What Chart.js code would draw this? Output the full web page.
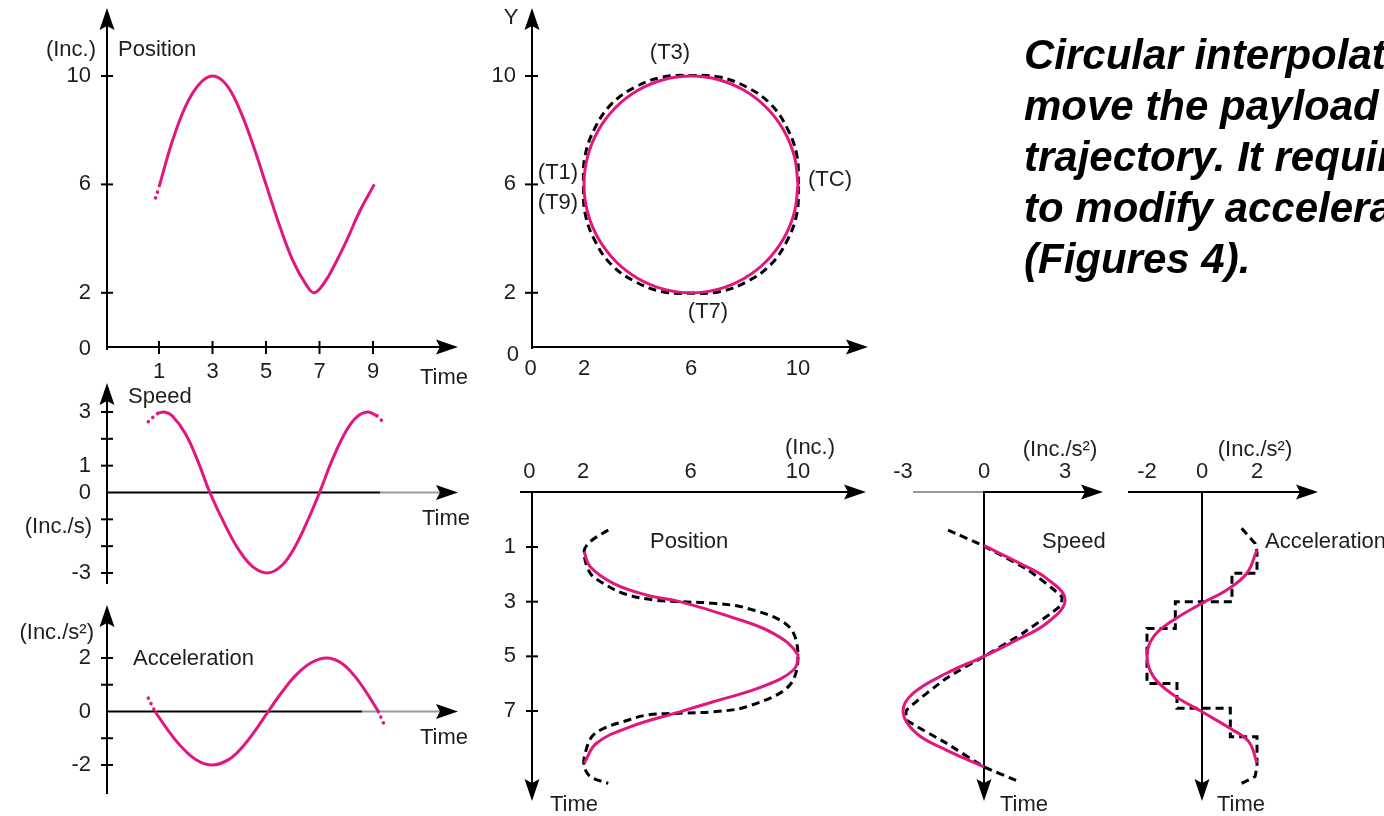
<!DOCTYPE html>
<html lang="en">
<head>
<meta charset="utf-8">
<title>Circular interpolation</title>
<script src="https://cdn.jsdelivr.net/npm/chart.js@4.4.1/dist/chart.umd.min.js"></script>
<style>
    html, body { margin: 0; padding: 0; background: #fff; }
    body { position: relative; width: 1384px; height: 816px; overflow: hidden; }
    canvas.plot { position: absolute; left: 0; top: 0; }
    .note {
        position: absolute; left: 1024px; top: 29px;
        font: italic bold 42px "Liberation Sans", Arial, sans-serif;
        line-height: 51px; color: #000; white-space: nowrap;
    }
</style>
</head>
<body>
<canvas id="posChart" class="plot" width="1384" height="816"></canvas>
<canvas id="speedChart" class="plot" width="1384" height="816"></canvas>
<canvas id="accelChart" class="plot" width="1384" height="816"></canvas>
<canvas id="pathChart" class="plot" width="1384" height="816"></canvas>
<canvas id="posTimeChart" class="plot" width="1384" height="816"></canvas>
<canvas id="speedTimeChart" class="plot" width="1384" height="816"></canvas>
<canvas id="accelTimeChart" class="plot" width="1384" height="816"></canvas>

<div class="note">
    <div>Circular interpolation</div>
    <div>move the payload</div>
    <div>trajectory. It requires</div>
    <div>to modify acceleration</div>
    <div>(Figures 4).</div>
</div>

<script>
const W = 1384, H = 816;
const PINK = '#e1177d';
const INK = '#1e1e1e';
const FONT = '22px "Liberation Sans", Arial, sans-serif';

// --- left column: position / speed / acceleration against time ---
const timeTicks = [1, 3, 5, 7, 9];
const posLevels = [10, 6, 2];

const posLeadT = [0.73, 0.87, 1.0];
const posLeadV = [5.1, 5.5, 5.9];
const posT = [1.0, 1.5, 2.0, 2.5, 3.0, 3.5, 4.0, 4.5, 5.0, 5.5, 6.0, 6.5, 6.8, 7.2, 7.6, 8.0, 8.5, 9.05];
const posV = [5.9, 7.6, 8.9, 9.7, 10.0, 9.7, 8.8, 7.5, 6.0, 4.5, 3.2, 2.3, 2.0, 2.4, 3.1, 3.9, 5.0, 6.0];

const speedMarks = [3, 2, 1, -1, -2, -3];
const speedLabels = [3, 1, 0, -3];
const spdLeadT = [0.3, 0.6, 0.95];
const spdLeadV = [2.17, 2.64, 2.95];
const spdT = [0.95, 1.2, 1.5, 2.0, 2.5, 2.9, 3.5, 4.0, 4.5, 5.05, 5.6, 6.1, 6.6, 7.0, 7.5, 8.0, 8.4, 8.8, 9.15];
const spdV = [2.95, 3.0, 2.85, 2.17, 1.05, 0, -1.27, -2.16, -2.76, -3.0, -2.71, -1.99, -0.95, 0, 1.27, 2.3, 2.82, 3.0, 2.86];
const spdTailT = [9.15, 9.45, 9.7];
const spdTailV = [2.86, 2.55, 2.25];

const accelMarks = [2, 1, -1, -2];
const accelLabels = [2, 0, -2];
const accLeadT = [0.37, 0.6, 0.85];
const accLeadV = [0.94, 0.5, 0];
const accT = [0.85, 1.3, 1.8, 2.4, 3.0, 3.6, 4.1, 4.6, 5.08, 5.6, 6.1, 6.7, 7.27, 7.8, 8.3, 8.8, 9.2];
const accV = [0, -0.65, -1.28, -1.81, -2.0, -1.8, -1.35, -0.71, 0, 0.73, 1.34, 1.83, 2.0, 1.82, 1.34, 0.64, 0];
const accTailT = [9.2, 9.4, 9.62];
const accTailV = [0, -0.45, -0.9];

// --- X/Y path ---
const pathLevels = [10, 6, 2];
const pathXLabels = [0, 2, 6, 10];
const circleX = [10, 9.864, 9.464, 8.828, 8, 7.035, 6, 4.965, 4, 3.172, 2.536, 2.136, 2, 2.136, 2.536, 3.172, 4, 4.965, 6, 7.035, 8, 8.828, 9.464, 9.864, 10];
const circleY = [6, 7.035, 8, 8.828, 9.464, 9.864, 10, 9.864, 9.464, 8.828, 8, 7.035, 6, 4.965, 4, 3.172, 2.536, 2.136, 2, 2.136, 2.536, 3.172, 4, 4.965, 6];
const cmdCircleX = [10.02, 9.96, 9.594, 8.97, 8.075, 7.061, 6, 4.939, 3.925, 3.03, 2.406, 2.04, 1.98, 2.04, 2.406, 3.03, 3.925, 4.939, 6, 7.061, 8.075, 8.97, 9.594, 9.96, 10.02];
const cmdCircleY = [6, 7.061, 8.075, 8.97, 9.594, 9.96, 10.02, 9.96, 9.594, 8.97, 8.075, 7.061, 6, 4.939, 3.925, 3.03, 2.406, 2.04, 1.98, 2.04, 2.406, 3.03, 3.925, 4.939, 6];

// --- bottom row: profiles with time running downwards ---
const downTicks = [1, 3, 5, 7];
const posAxisLabels = [0, 2, 6, 10];
const pathT = [1.17, 1.72, 2.33, 2.76, 3.0, 3.55, 4.16, 4.95, 5.5, 6.1, 6.66, 7.03, 7.58, 8.18, 8.9];
const pathV = [2.04, 2.27, 3.13, 4.37, 5.6, 7.47, 9.08, 10.0, 9.83, 8.7, 6.85, 5.6, 3.75, 2.5, 2.05];
const cmdT = [0.38, 0.8, 1.17, 1.96, 2.33, 2.7, 2.94, 3.0, 3.06, 3.24, 3.9, 5.0, 6.1, 6.84, 7.03, 7.08, 7.15, 7.39, 7.64, 7.94, 8.55, 9.0, 9.4, 9.65];
const cmdV = [2.94, 2.27, 2.04, 2.27, 2.76, 3.5, 4.62, 5.6, 6.85, 8.1, 9.65, 10.0, 9.65, 8.1, 6.85, 5.6, 4.37, 3.5, 2.76, 2.33, 2.08, 2.04, 2.27, 2.94];

const speedAxisLabels = [-3, 0, 3];
const fSpdT = [0.95, 1.6, 2.15, 2.94, 3.79, 4.46, 5.0, 5.62, 6.35, 7.03, 7.82, 8.43, 9.04];
const fSpdV = [0, 1.33, 2.32, 3.0, 2.32, 1.09, 0, -1.39, -2.62, -3.0, -2.5, -1.39, 0];
const cSpdT = [0.38, 0.97, 1.84, 2.82, 3.18, 4.16, 5.0, 5.8, 6.96, 7.33, 8.18, 9.04, 9.59];
const cSpdV = [-1.33, 0, 1.63, 2.88, 2.8, 1.43, 0, -1.39, -2.86, -2.86, -1.39, 0, 1.31];

const accelAxisLabels = [-2, 0, 2];
const fAccT = [1.1, 1.96, 2.57, 3.06, 3.67, 4.28, 5.0, 5.75, 6.42, 7.03, 7.64, 8.12, 8.9];
const fAccV = [2.0, 1.63, 0.9, 0, -1.03, -1.76, -2.0, -1.76, -1.03, 0, 1.03, 1.7, 2.0];
const stepT = [0.31, 0.87, 1.2, 1.96, 1.96, 3.0, 3.0, 3.98, 3.98, 5.99, 5.99, 6.9, 6.9, 7.94, 7.94, 9.04, 9.4, 9.65];
const stepV = [1.44, 1.93, 2.0, 2.0, 1.09, 1.09, -0.97, -0.97, -2.0, -2.0, -0.91, -0.91, 1.03, 1.03, 2.0, 2.0, 1.93, 1.44];

function pts(xs, ys) {
    return xs.map((x, i) => ({ x: x, y: ys[i] }));
}

function solid(xs, ys) {
    return { data: pts(xs, ys), showLine: true, borderColor: PINK, borderWidth: 3, pointRadius: 0, tension: 0.4, clip: false };
}

function dotted(xs, ys) {
    return {
        data: pts(xs, ys), showLine: true, borderColor: PINK, borderWidth: 3.5,
        borderDash: [0.1, 6], borderCapStyle: 'round', pointRadius: 0, tension: 0.3, clip: false
    };
}

function dashed(xs, ys, tension) {
    return { data: pts(xs, ys), showLine: true, borderColor: '#000', borderWidth: 3, borderDash: [8, 5], pointRadius: 0, tension: tension, clip: false };
}

function drawLine(ctx, x0, y0, x1, y1, color) {
    ctx.beginPath();
    ctx.strokeStyle = color || '#000';
    ctx.lineWidth = 2;
    ctx.setLineDash([]);
    ctx.moveTo(x0, y0);
    ctx.lineTo(x1, y1);
    ctx.stroke();
}

function drawArrow(ctx, x, y, dir) {
    const len = 22, half = 7.5;
    ctx.save();
    ctx.translate(x, y);
    ctx.rotate({ right: 0, down: Math.PI / 2, up: -Math.PI / 2 }[dir]);
    ctx.beginPath();
    ctx.moveTo(0, 0);
    ctx.lineTo(-len, -half);
    ctx.lineTo(-len * 0.82, 0);
    ctx.lineTo(-len, half);
    ctx.closePath();
    ctx.fillStyle = '#000';
    ctx.fill();
    ctx.restore();
}

function drawText(ctx, text, x, y, align) {
    ctx.font = FONT;
    ctx.fillStyle = INK;
    ctx.textAlign = align || 'center';
    ctx.textBaseline = 'middle';
    ctx.fillText(text, x, y);
}

function makeChart(id, box, xRange, yRange, datasets, decorate, flipY) {
    return new Chart(document.getElementById(id), {
        type: 'scatter',
        data: { datasets },
        options: {
            responsive: false,
            animation: false,
            events: [],
            layout: { padding: { left: box[0], top: box[1], right: W - box[2], bottom: H - box[3] } },
            plugins: { legend: { display: false }, tooltip: { enabled: false } },
            scales: {
                x: { type: 'linear', display: false, min: xRange[0], max: xRange[1] },
                y: { type: 'linear', display: false, min: yRange[0], max: yRange[1], reverse: !!flipY }
            }
        },
        plugins: [{
            id: 'axesArt',
            beforeDatasetsDraw(chart) {
                const ctx = chart.ctx;
                ctx.save();
                decorate(ctx, chart.scales.x, chart.scales.y);
                ctx.restore();
            }
        }]
    });
}

// Position vs time
makeChart('posChart', [159, 76, 373, 347], [1, 9], [0, 10],
    [solid(posT, posV), dotted(posLeadT, posLeadV)],
    (ctx, xs, ys) => {
        drawLine(ctx, 107, 350, 107, 22);
        drawArrow(ctx, 107, 8, 'up');
        drawLine(ctx, 106, 347, 445, 347);
        drawArrow(ctx, 458, 347, 'right');
        posLevels.forEach((v) => {
            const y = ys.getPixelForValue(v);
            drawLine(ctx, 101, y, 113, y);
            drawText(ctx, String(v), 91, y, 'right');
        });
        drawText(ctx, '0', 91, 349, 'right');
        timeTicks.forEach((t) => {
            const x = xs.getPixelForValue(t);
            drawLine(ctx, x, 341, x, 354);
            drawText(ctx, String(t), x, 372);
        });
        drawText(ctx, 'Time', 420, 378, 'left');
        drawText(ctx, '(Inc.)', 96, 50, 'right');
        drawText(ctx, 'Position', 118, 50, 'left');
    });

// Speed vs time
makeChart('speedChart', [159, 412, 373, 573], [1, 9], [-3, 3],
    [solid(spdT, spdV), dotted(spdLeadT, spdLeadV), dotted(spdTailT, spdTailV)],
    (ctx, xs, ys) => {
        const y0 = ys.getPixelForValue(0);
        drawLine(ctx, 107, 584, 107, 397);
        drawArrow(ctx, 107, 383, 'up');
        drawLine(ctx, 106, y0, 380, y0);
        drawLine(ctx, 380, y0, 445, y0, '#9a9a9a');
        drawArrow(ctx, 458, y0, 'right');
        speedMarks.forEach((v) => {
            const y = ys.getPixelForValue(v);
            drawLine(ctx, 101, y, 113, y);
        });
        speedLabels.forEach((v) => drawText(ctx, String(v), 91, ys.getPixelForValue(v), 'right'));
        drawText(ctx, 'Speed', 128, 397, 'left');
        drawText(ctx, '(Inc./s)', 92, 527, 'right');
        drawText(ctx, 'Time', 422, 519, 'left');
    });

// Acceleration vs time
makeChart('accelChart', [159, 658, 373, 765], [1, 9], [-2, 2],
    [solid(accT, accV), dotted(accLeadT, accLeadV), dotted(accTailT, accTailV)],
    (ctx, xs, ys) => {
        const y0 = ys.getPixelForValue(0);
        drawLine(ctx, 107, 794, 107, 619);
        drawArrow(ctx, 107, 605, 'up');
        drawLine(ctx, 106, y0, 362, y0);
        drawLine(ctx, 362, y0, 445, y0, '#9a9a9a');
        drawArrow(ctx, 458, y0, 'right');
        accelMarks.forEach((v) => {
            const y = ys.getPixelForValue(v);
            drawLine(ctx, 101, y, 113, y);
        });
        accelLabels.forEach((v) => drawText(ctx, String(v), 91, ys.getPixelForValue(v), 'right'));
        drawText(ctx, '(Inc./s²)', 94, 633, 'right');
        drawText(ctx, 'Acceleration', 133, 659, 'left');
        drawText(ctx, 'Time', 420, 738, 'left');
    });

// X/Y trajectory
makeChart('pathChart', [584, 76, 798, 347], [2, 10], [0, 10],
    [solid(circleX, circleY), dashed(cmdCircleX, cmdCircleY, 0.4)],
    (ctx, xs, ys) => {
        drawLine(ctx, 532, 349, 532, 22);
        drawArrow(ctx, 532, 8, 'up');
        drawLine(ctx, 531, 347, 855, 347);
        drawArrow(ctx, 868, 347, 'right');
        pathLevels.forEach((v) => {
            const y = ys.getPixelForValue(v);
            drawLine(ctx, 525, y, 538, y);
            drawText(ctx, String(v), 516, y, 'right');
        });
        drawText(ctx, '0', 519, 355, 'right');
        pathXLabels.forEach((v) => drawText(ctx, String(v), xs.getPixelForValue(v), 369));
        drawText(ctx, 'Y', 511, 18);
        drawText(ctx, '(T3)', 670, 53);
        drawText(ctx, '(T1)', 558, 173);
        drawText(ctx, '(T9)', 558, 203);
        drawText(ctx, '(TC)', 830, 180);
        drawText(ctx, '(T7)', 708, 312);
    });

// Position with time running downwards
makeChart('posTimeChart', [583, 547, 798, 711], [2, 10], [1, 7],
    [solid(pathV, pathT), dashed(cmdV, cmdT, 0.35)],
    (ctx, xs, ys) => {
        drawLine(ctx, 520, 492, 852, 492);
        drawArrow(ctx, 866, 492, 'right');
        drawLine(ctx, 532, 491, 532, 787);
        drawArrow(ctx, 532, 801, 'down');
        downTicks.forEach((t) => {
            const y = ys.getPixelForValue(t);
            drawLine(ctx, 526, y, 538, y);
            drawText(ctx, String(t), 516, y, 'right');
        });
        posAxisLabels.forEach((v) => drawText(ctx, String(v), xs.getPixelForValue(v), 472));
        drawText(ctx, '(Inc.)', 810, 448);
        drawText(ctx, 'Position', 650, 542, 'left');
        drawText(ctx, 'Time', 550, 805, 'left');
    }, true);

// Speed with time running downwards
makeChart('speedTimeChart', [903, 547, 1065, 711], [-3, 3], [1, 7],
    [solid(fSpdV, fSpdT), dashed(cSpdV, cSpdT, 0.15)],
    (ctx, xs, ys) => {
        const x0 = xs.getPixelForValue(0);
        drawLine(ctx, 913, 492, x0, 492, '#9a9a9a');
        drawLine(ctx, x0, 492, 1090, 492);
        drawArrow(ctx, 1103, 492, 'right');
        drawLine(ctx, x0, 491, x0, 787);
        drawArrow(ctx, x0, 801, 'down');
        speedAxisLabels.forEach((v) => drawText(ctx, String(v), xs.getPixelForValue(v), 472));
        drawText(ctx, '(Inc./s²)', 1060, 450);
        drawText(ctx, 'Speed', 1042, 542, 'left');
        drawText(ctx, 'Time', 1000, 805, 'left');
    }, true);

// Acceleration with time running downwards
makeChart('accelTimeChart', [1147, 547, 1257, 711], [-2, 2], [1, 7],
    [solid(fAccV, fAccT), dashed(stepV, stepT, 0)],
    (ctx, xs, ys) => {
        const x0 = xs.getPixelForValue(0);
        drawLine(ctx, 1128, 492, 1305, 492);
        drawArrow(ctx, 1318, 492, 'right');
        drawLine(ctx, x0, 491, x0, 787);
        drawArrow(ctx, x0, 801, 'down');
        accelAxisLabels.forEach((v) => drawText(ctx, String(v), xs.getPixelForValue(v), 472));
        drawText(ctx, '(Inc./s²)', 1255, 450);
        drawText(ctx, 'Acceleration', 1265, 542, 'left');
        drawText(ctx, 'Time', 1217, 805, 'left');
    }, true);
</script>
</body>
</html>
